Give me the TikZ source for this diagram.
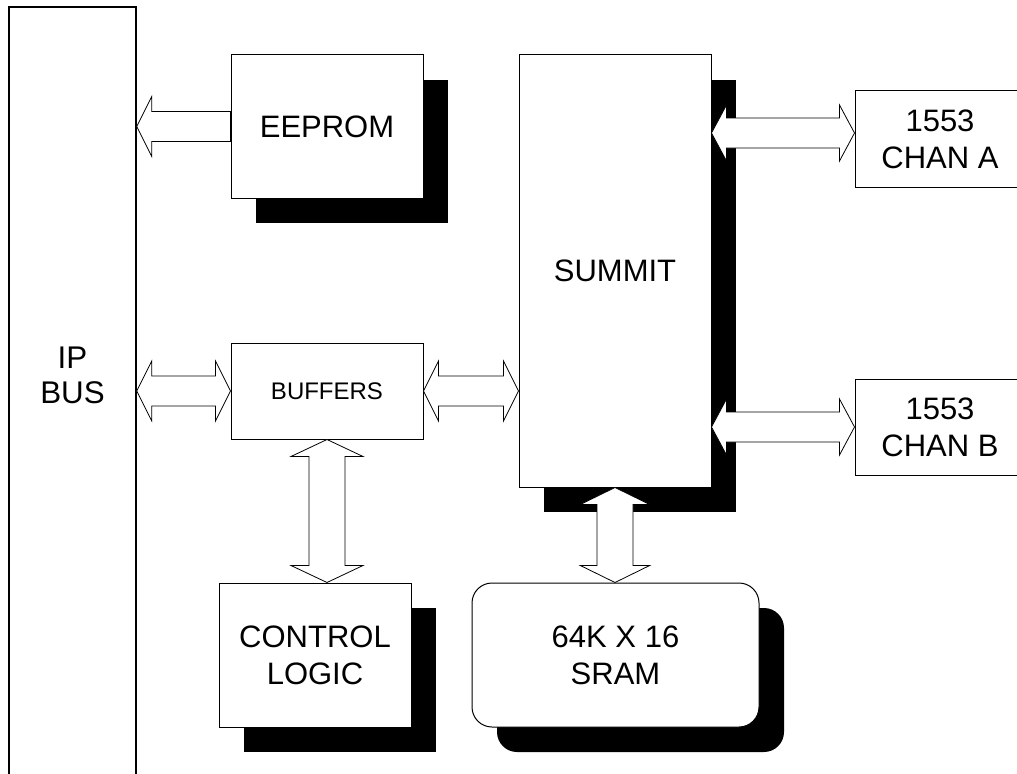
\documentclass[tikz,border=0pt]{standalone}
\usepackage{fontspec}
\setmainfont{Liberation Sans}
\usetikzlibrary{calc,shadows}

\tikzset{
  box/.style={draw=black, line width=0.75pt, fill=white, inner sep=0pt, align=center,
    font=\fontsize{23.25}{27.75}\selectfont},
  shad/.style={drop shadow={shadow xshift=18.75pt, shadow yshift=-18.75pt, fill=black, opacity=1}},
  barrow/.style={draw=black, line width=0.6pt, fill=white, line join=miter},
  lbl/.style={inner sep=0pt, align=center, font=\fontsize{23.5}{26.5}\selectfont},
}

% horizontal double block arrow: #1 left tip, #2 right tip, #3 head half width, #4 shaft half width, #5 head length
\newcommand\hdblarrow[5]{%
  \draw[barrow] let \p1=(#1), \p2=(#2) in
    (\x1,\y1) -- (\x1+#5,\y1+#3) -- (\x1+#5,\y1+#4) -- (\x2-#5,\y1+#4) -- (\x2-#5,\y1+#3)
    -- (\x2,\y1) -- (\x2-#5,\y1-#3) -- (\x2-#5,\y1-#4) -- (\x1+#5,\y1-#4) -- (\x1+#5,\y1-#3) -- cycle;}
% single left-pointing block arrow: #1 tip, #2 tail
\newcommand\hleftarrow[5]{%
  \draw[barrow] let \p1=(#1), \p2=(#2) in
    (\x1,\y1) -- (\x1+#5,\y1+#3) -- (\x1+#5,\y1+#4) -- (\x2,\y1+#4)
    -- (\x2,\y1-#4) -- (\x1+#5,\y1-#4) -- (\x1+#5,\y1-#3) -- cycle;}
% vertical double block arrow: #1 top tip, #2 bottom tip
\newcommand\vdblarrow[5]{%
  \draw[barrow] let \p1=(#1), \p2=(#2) in
    (\x1,\y1) -- (\x1+#3,\y1-#5) -- (\x1+#4,\y1-#5) -- (\x1+#4,\y2+#5) -- (\x1+#3,\y2+#5)
    -- (\x1,\y2) -- (\x1-#3,\y2+#5) -- (\x1-#4,\y2+#5) -- (\x1-#4,\y1-#5) -- (\x1-#3,\y1-#5) -- cycle;}

\begin{document}
\begin{tikzpicture}[x=0.75pt, y=-0.75pt]
\useasboundingbox (0,0) rectangle (1017,774);
\clip (0,0) rectangle (1017,774);
\fill[white] (0,0) rectangle (1017,774);

% blocks
\node[box, line width=1.1pt, minimum width=95.25pt, minimum height=587.25pt] (ipbus) at (72.5,398.5) {};
\node[lbl] (iplbl) at (72.5,375.5) {IP\\BUS};

\node[box, shad, minimum width=144pt, minimum height=107.25pt] (eeprom) at (327,126.5) {EEPROM};
\node[box, minimum width=144pt, minimum height=72pt, font=\fontsize{18}{21}\selectfont] (buffers) at (327,391) {BUFFERS};
\node[box, shad, minimum width=144pt, minimum height=324pt] (summit) at (615,271) {SUMMIT};
\node[box, minimum width=127.5pt, minimum height=72pt] (chana) at (940,139) {1553\\CHAN A};
\node[box, minimum width=127.5pt, minimum height=72pt] (chanb) at (940,427) {1553\\CHAN B};
\node[box, shad, minimum width=144pt, minimum height=108pt] (control) at (315,655) {CONTROL\\LOGIC};
\node[box, shad, rounded corners=15pt, minimum width=215.25pt, minimum height=108pt] (sram) at (615.5,655) {64K X 16\\SRAM};

% connectors
\coordinate (eL) at (eeprom.west -| ipbus.east);
\hleftarrow{eL}{eeprom.west}{22.5pt}{11.25pt}{11.25pt}

\coordinate (bL) at (buffers.west -| ipbus.east);
\hdblarrow{bL}{buffers.west}{22.5pt}{11.25pt}{11.25pt}
\coordinate (bR) at (buffers.east -| summit.west);
\hdblarrow{buffers.east}{bR}{22.5pt}{11.25pt}{11.25pt}

\coordinate (caR) at ($(chana.west)+(0,-6)$);
\coordinate (caL) at (caR -| summit.east);
\hdblarrow{caL}{caR}{21pt}{11.25pt}{11.25pt}

\coordinate (cbL) at (chanb.west -| summit.east);
\hdblarrow{cbL}{chanb.west}{21pt}{11.25pt}{11.25pt}

\coordinate (cT) at (buffers.south);
\coordinate (cB) at (buffers.south |- control.north);
\vdblarrow{cT}{cB}{27pt}{13.5pt}{12.75pt}

\coordinate (sT) at (summit.south);
\coordinate (sB) at (summit.south |- sram.north);
\vdblarrow{sT}{sB}{26pt}{13.5pt}{12.75pt}
\end{tikzpicture}
\end{document}
